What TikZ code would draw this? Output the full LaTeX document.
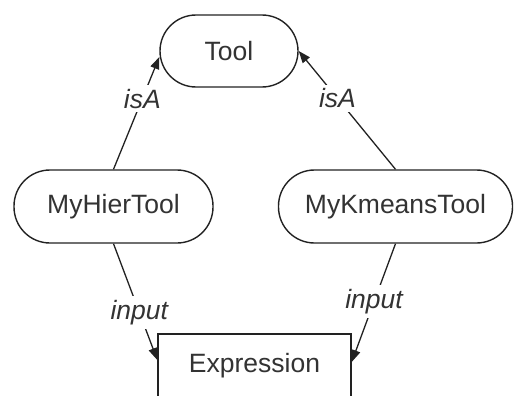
\documentclass[tikz,border=0pt]{standalone}
\usepackage{fontspec}
\setmainfont{Liberation Sans}
\usetikzlibrary{arrows.meta}
\definecolor{ink}{HTML}{222222}
\definecolor{txt}{HTML}{333333}
\tikzset{
  base/.style={draw=ink, line width=1.4pt, text=txt, font=\fontsize{26.5}{30}\selectfont, inner sep=0pt},
  pill/.style={base, rounded corners=36pt, minimum height=73pt},
  boxnode/.style={base, rectangle, minimum height=64pt},
  link/.style={draw=ink, line width=1.3pt, -{Triangle[length=12pt,width=9pt]}},
  lbl/.style={fill=white, text=txt, font=\fontsize{26.5}{30}\selectfont\itshape, inner xsep=1pt, inner ysep=4pt}
}
\begin{document}
\begin{tikzpicture}[x=1pt, y=-1pt]
  \clip (0,0) rectangle (514,396);
  \fill[white] (0,0) rectangle (514,396);

  % nodes
  \node[pill, minimum width=138pt, minimum height=72pt] (tool) at (229,51) {Tool};
  \node[pill, minimum width=199pt] (hier) at (113.5,206.5) {MyHierTool};
  \node[pill, minimum width=234pt] (kmeans) at (395.5,206.5) {MyKmeansTool};
  \node[boxnode, minimum width=193pt] (expr) at (254.5,366) {Expression};

  % connectors
  \draw[link] (hier.north) -- node[lbl, pos=0.63] {isA} ([yshift=-6pt]tool.west);
  \draw[link] (kmeans.north) -- node[lbl, pos=0.6] {isA} (tool.east);
  \draw[link] (hier.south) -- node[lbl, pos=0.59] {input} ([yshift=6pt]expr.west);
  \draw[link] (kmeans.south) -- node[lbl, pos=0.49] {input} ([yshift=4pt]expr.east);
\end{tikzpicture}
\end{document}
